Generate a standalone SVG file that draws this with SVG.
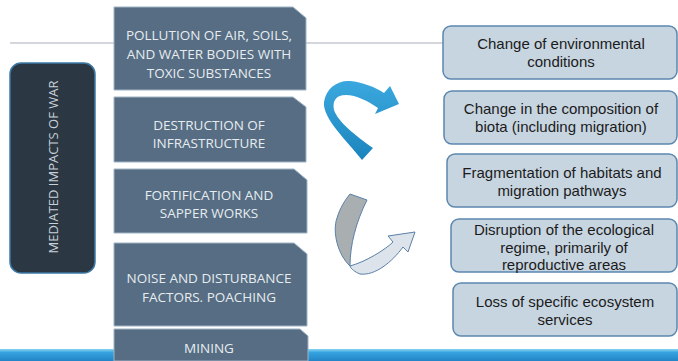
<svg xmlns="http://www.w3.org/2000/svg" width="678" height="361" viewBox="0 0 678 361">
<defs>
<linearGradient id="blueArrow" x1="0" y1="0" x2="0" y2="1">
<stop offset="0" stop-color="#3aa8de"/>
<stop offset="1" stop-color="#1c84bd"/>
</linearGradient>
<linearGradient id="band" x1="0" y1="0" x2="0" y2="1">
<stop offset="0" stop-color="#8ad6f2"/>
<stop offset="0.3" stop-color="#35a2de"/>
<stop offset="1" stop-color="#2384c6"/>
</linearGradient>
<style>
.mid{fill:#566d83;stroke:#9fb3c4;stroke-width:1}
.midt{font-family:"Open Sans","DejaVu Sans",sans-serif;font-size:13.5px;fill:#e6ecf0;text-anchor:middle}
.res{fill:#c7d5e1;stroke:#5c87ae;stroke-width:1.5}
.rest{font-family:"Liberation Sans",Arial,sans-serif;font-size:15px;fill:#1b1b1b;text-anchor:middle}
</style>
</defs>
<rect width="678" height="361" fill="#ffffff"/>
<line x1="10" y1="43" x2="445" y2="43" stroke="#d3d7db" stroke-width="2"/>
<rect x="0" y="349" width="678" height="12" fill="url(#band)"/>

<g id="left">
<rect x="10" y="63" width="85" height="210" rx="11" fill="#2b3844" stroke="#3d7aa6" stroke-width="1.5"/>
<text transform="translate(58,167) rotate(-90)" font-family="'Open Sans','DejaVu Sans',sans-serif" font-size="13" fill="#c9d1d7" text-anchor="middle">MEDIATED IMPACTS OF WAR</text>
</g>

<g id="m1">
<path class="mid" d="M114,7 H293 L306,18 V90 H114 Z"/>
<text class="midt" x="209" y="40">POLLUTION OF AIR, SOILS,</text>
<text class="midt" x="209" y="59">AND WATER BODIES WITH</text>
<text class="midt" x="209" y="78">TOXIC SUBSTANCES</text>
</g>
<g id="m2">
<path class="mid" d="M114,97 H293 L306,107 V162 H114 Z"/>
<text class="midt" x="209" y="130">DESTRUCTION OF</text>
<text class="midt" x="209" y="148">INFRASTRUCTURE</text>
</g>
<g id="m3">
<path class="mid" d="M114,169 H294 L307,180 V233 H114 Z"/>
<text class="midt" x="209" y="200">FORTIFICATION AND</text>
<text class="midt" x="209" y="218">SAPPER WORKS</text>
</g>
<g id="m4">
<path class="mid" d="M114,243 H294 L307,254 V326 H114 Z"/>
<text class="midt" x="209" y="283">NOISE AND DISTURBANCE</text>
<text class="midt" x="209" y="302">FACTORS. POACHING</text>
</g>
<g id="m5">
<path class="mid" d="M114,329 H300 L308,336 V361 H114 Z"/>
<text class="midt" x="209" y="353">MINING</text>
</g>

<g id="r1">
<rect class="res" x="443" y="26" width="234" height="53" rx="8"/>
<text class="rest" x="561" y="49">Change of environmental</text>
<text class="rest" x="561" y="67">conditions</text>
</g>
<g id="r2">
<rect class="res" x="444" y="91" width="233" height="53" rx="8"/>
<text class="rest" x="561" y="114">Change in the composition of</text>
<text class="rest" x="561" y="132">biota (including migration)</text>
</g>
<g id="r3">
<rect class="res" x="447" y="154" width="230" height="53" rx="8"/>
<text class="rest" x="562" y="178">Fragmentation of habitats and</text>
<text class="rest" x="562" y="196">migration pathways</text>
</g>
<g id="r4">
<rect class="res" x="451" y="219" width="226" height="53" rx="8"/>
<text class="rest" x="564" y="235">Disruption of the ecological</text>
<text class="rest" x="564" y="253">regime, primarily of</text>
<text class="rest" x="564" y="270">reproductive areas</text>
</g>
<g id="r5">
<rect class="res" x="453" y="283" width="224" height="53" rx="8"/>
<text class="rest" x="565" y="307">Loss of specific ecosystem</text>
<text class="rest" x="565" y="325">services</text>
</g>

<g id="connectors">
<path d="M362,160 C348,142 322,118 324,102 C326,88 338,80 350,81 C362,82 375,87 384,93 L390,86 L399,104 L375,114 L378,108 C368,101 356,95 346,95 C336,95 332,101 334,110 C338,122 356,136 373,148 Z" fill="url(#blueArrow)"/>
<path d="M350,266 C365,262 385,250 393,242 L388,236 L415,232 L408,252 L403,247 C392,262 375,276 360,274 C355,272 351,269 350,266 Z" fill="#dde3ea" stroke="#5a80a8" stroke-width="1"/>
<path d="M350,194 L367,200 C356,222 350,245 350,266 C338,255 332,232 337,218 C340,208 345,200 350,194 Z" fill="#a9aeb1" stroke="#5a80a8" stroke-width="1"/>
</g>
</svg>
